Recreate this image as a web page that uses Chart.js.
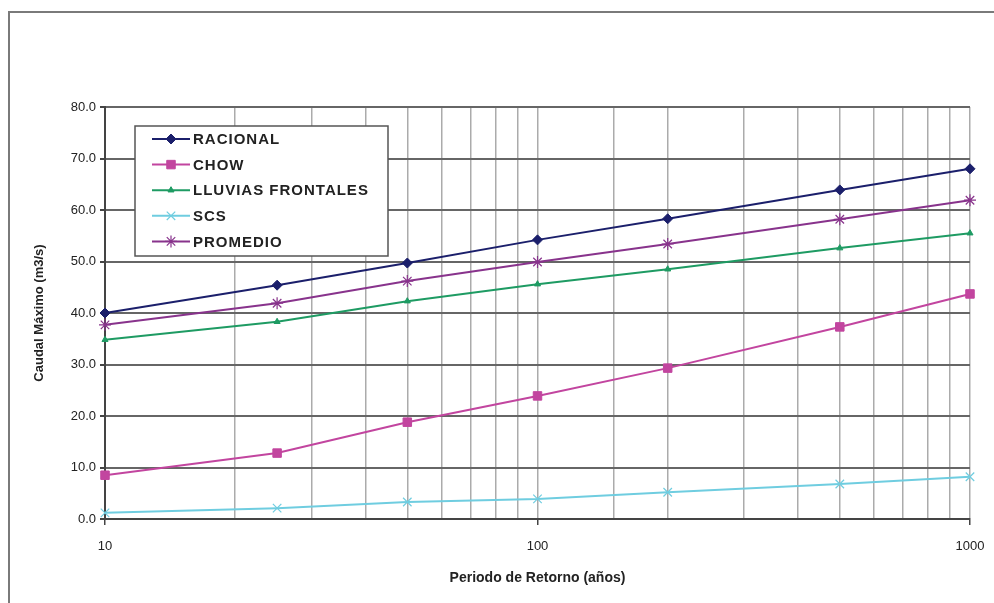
<!DOCTYPE html>
<html>
<head>
<meta charset="utf-8">
<script src="https://cdn.jsdelivr.net/npm/chart.js@4.4.1/dist/chart.umd.min.js"></script>
<style>
  html, body { margin: 0; padding: 0; background: #fff; }
  #wrap { width: 994px; height: 603px; position: relative; }
</style>
</head>
<body>
<div id="wrap"><canvas id="caudalChart" width="994" height="603"></canvas></div>
<script>
// Datos del gráfico
const periodos = [10, 25, 50, 100, 200, 500, 1000];
const racional = [40.0, 45.4, 49.7, 54.2, 58.3, 63.9, 68.0];
const chow = [8.5, 12.8, 18.8, 23.9, 29.3, 37.3, 43.7];
const lluvias = [34.8, 38.3, 42.3, 45.6, 48.5, 52.6, 55.5];
const scs = [1.2, 2.1, 3.3, 3.9, 5.2, 6.8, 8.2];
const promedio = [37.7, 41.9, 46.2, 49.9, 53.4, 58.2, 61.9];
const xLabels = [10, 100, 1000];
const yTicks = [0, 10, 20, 30, 40, 50, 60, 70, 80];

const FONT = "'Liberation Sans', Arial, sans-serif";

function serie(label, values, color, style, radius) {
    return {
        label: label,
        data: periodos.map((p, i) => ({ x: p, y: values[i] })),
        borderColor: color,
        backgroundColor: color,
        borderWidth: 2,
        pointStyle: style,
        pointRadius: radius,
        pointBorderWidth: style === 'crossRot' || style === 'star' ? 1.2 : 1,
        tension: 0,
        clip: false
    };
}

const datasets = [
    serie('RACIONAL', racional, '#1b1f6b', 'rectRot', 5),
    serie('CHOW', chow, '#c2459f', 'rect', 6),
    serie('LLUVIAS FRONTALES', lluvias, '#1e9b63', 'triangle', 3.5),
    serie('SCS', scs, '#6fcde0', 'crossRot', 6),
    serie('PROMEDIO', promedio, '#88338c', 'star', 6)
];

// Marco exterior y leyenda dentro del área del gráfico
const marcoPlugin = {
    id: 'marco',
    beforeDraw(chart) {
        const c = chart.ctx;
        c.save();
        c.fillStyle = '#fff';
        c.fillRect(0, 0, chart.width, chart.height);
        c.strokeStyle = '#7a7a7a';
        c.lineWidth = 2;
        c.beginPath();
        c.moveTo(9, chart.height);
        c.lineTo(9, 12);
        c.lineTo(chart.width, 12);
        c.stroke();
        c.restore();
    },
    afterDraw(chart) {
        const c = chart.ctx;
        const bx = 135, by = 126, bw = 253, bh = 130;
        c.save();
        c.fillStyle = '#fff';
        c.fillRect(bx, by, bw, bh);
        c.strokeStyle = '#555';
        c.lineWidth = 1.5;
        c.strokeRect(bx, by, bw, bh);
        c.font = 'bold 15px ' + FONT;
        c.letterSpacing = '1px';
        c.textBaseline = 'middle';
        datasets.forEach((ds, i) => {
            const y = by + 13 + i * 25.6;
            c.strokeStyle = ds.borderColor;
            c.fillStyle = ds.borderColor;
            c.lineWidth = 2;
            c.beginPath();
            c.moveTo(152, y);
            c.lineTo(190, y);
            c.stroke();
            c.lineWidth = ds.pointBorderWidth;
            Chart.helpers.drawPoint(c, {
                pointStyle: ds.pointStyle,
                radius: ds.pointRadius,
                borderWidth: ds.pointBorderWidth,
                rotation: 0
            }, 171, y);
            c.fillStyle = '#222';
            c.fillText(ds.label, 193, y + 1);
        });
        c.restore();
    }
};

const ctx = document.getElementById('caudalChart').getContext('2d');
const caudalChart = new Chart(ctx, {
    type: 'line',
    data: { datasets: datasets },
    plugins: [marcoPlugin],
    options: {
        responsive: false,
        animation: false,
        layout: { padding: { top: 107, right: 24, left: 0, bottom: 0 } },
        plugins: {
            legend: { display: false },
            tooltip: { enabled: false }
        },
        scales: {
            x: {
                type: 'logarithmic',
                min: 10,
                max: 1000,
                afterFit: function(scale) {
                    scale.height = 84;
                    scale.paddingRight = 0;
                    scale.paddingLeft = 0;
                },
                grid: {
                    color: '#ababab',
                    lineWidth: 1.5,
                    drawTicks: true,
                    tickLength: 6,
                    tickColor: ctx => xLabels.includes(ctx.tick && ctx.tick.value) ? '#444' : 'rgba(0,0,0,0)'
                },
                border: { color: '#444', width: 2 },
                ticks: {
                    autoSkip: false,
                    maxRotation: 0,
                    padding: 14,
                    color: '#222',
                    font: { family: FONT, size: 13 },
                    callback: function(value) {
                        return xLabels.includes(value) ? String(value) : '';
                    }
                },
                title: {
                    display: true,
                    text: 'Periodo de Retorno (años)',
                    color: '#222',
                    font: { family: FONT, size: 14, weight: 'bold' },
                    padding: { top: 0, bottom: 16 }
                }
            },
            y: {
                min: 0,
                max: 80,
                afterFit: function(scale) { scale.width = 105; },
                afterBuildTicks: function(scale) {
                    scale.ticks = yTicks.map(v => ({ value: v }));
                },
                grid: {
                    color: '#666',
                    lineWidth: 2,
                    tickLength: 5,
                    tickColor: '#444'
                },
                border: { color: '#444', width: 2 },
                ticks: {
                    padding: 4,
                    color: '#222',
                    font: { family: FONT, size: 13 },
                    callback: function(value) { return value.toFixed(1); }
                },
                title: {
                    display: true,
                    text: 'Caudal Máximo (m3/s)',
                    color: '#222',
                    font: { family: FONT, size: 13, weight: 'bold' },
                    padding: { top: 32, bottom: 0 }
                }
            }
        }
    }
});
</script>
</body>
</html>
